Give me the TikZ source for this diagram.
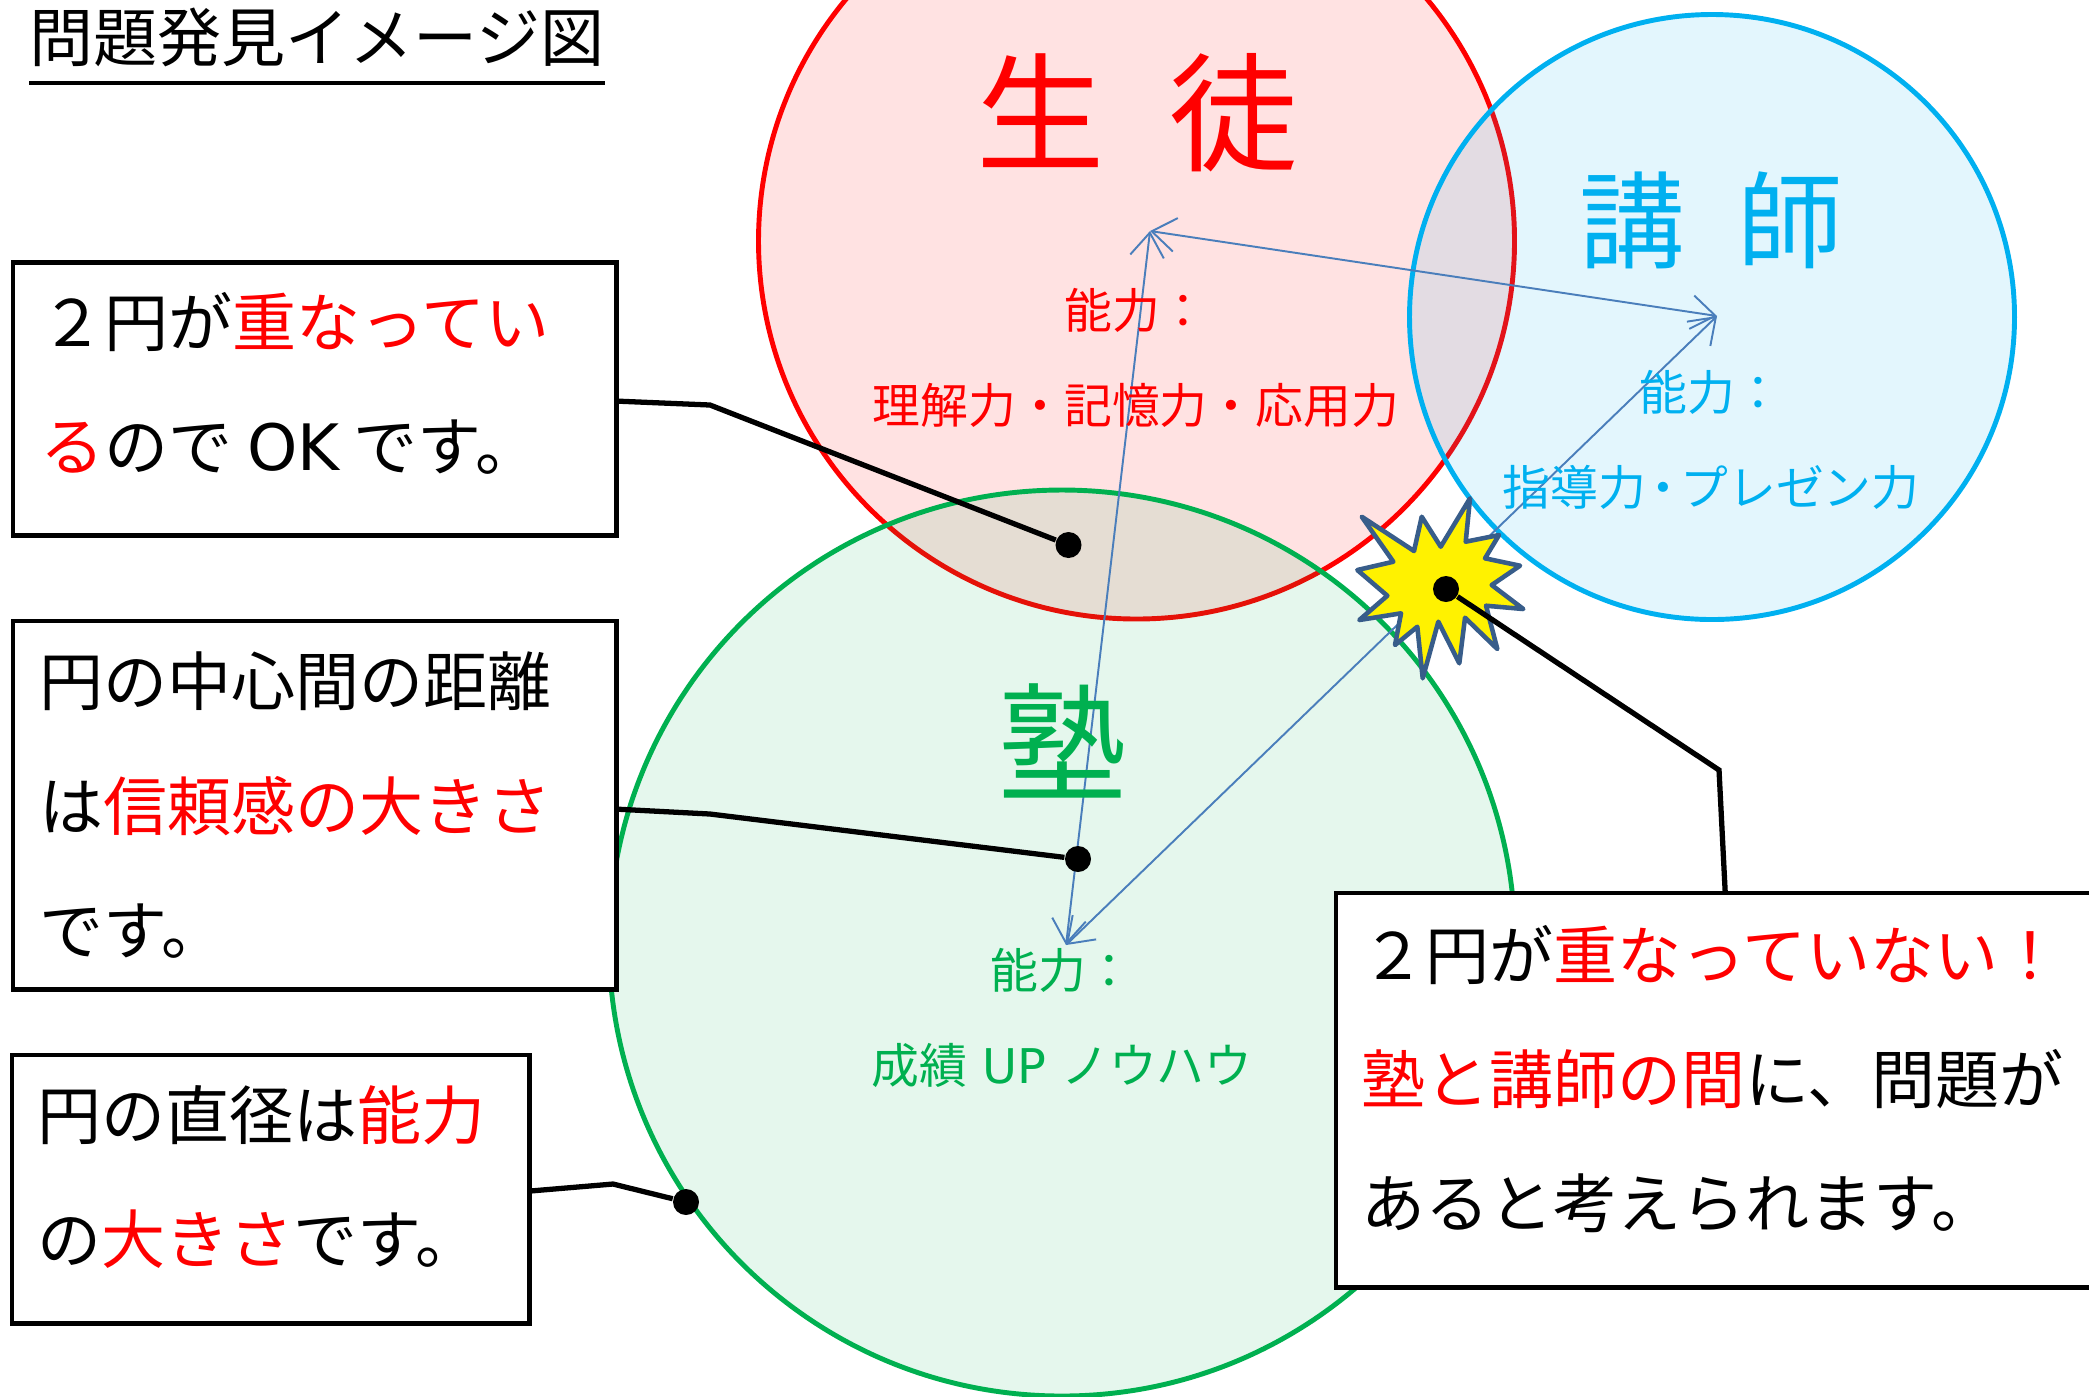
\documentclass[tikz,border=0pt]{standalone}
\usepackage{fontspec}
\setmainfont{Noto Sans CJK JP}
\newfontfamily\latinfont{DejaVu Sans}
\usetikzlibrary{arrows.meta}
\usetikzlibrary{calc}
\tikzset{>={Straight Barb[length=6.8pt,width=9.6pt]}}
\definecolor{juniorred}{RGB}{255,0,0}
\definecolor{juniorblue}{RGB}{0,176,240}
\definecolor{juniorgreen}{RGB}{0,176,80}
\definecolor{arrowblue}{RGB}{74,126,187}
\definecolor{staredge}{RGB}{56,93,138}
\newcommand{\hot}[1]{\textcolor{juniorred}{#1}}
\newcommand{\lat}[1]{{\latinfont #1}}
\tikzstyle{ring}=[line width=1.4pt,fill opacity=0.115]
\tikzstyle{callbox}=[draw=black,fill=white,line width=1.4pt,inner sep=0pt,outer sep=0pt,anchor=north west]
\tikzstyle{calltext}=[anchor=west,inner sep=0pt,align=left,font=\fontsize{18.2}{35.3}\selectfont]
\tikzstyle{leader}=[draw=black,line width=1.5pt]
\tikzstyle{blackdot}=[circle,fill=black,inner sep=0pt,minimum size=0.26cm]
\tikzstyle{skill}=[inner sep=0pt,align=center,font=\fontsize{13.6}{26.9}\selectfont]
\tikzstyle{arrowline}=[draw=arrowblue,line width=0.55pt,<->]
\begin{document}
\begin{tikzpicture}[x=0.01cm,y=-0.01cm]
    \clip (0,0) rectangle (2089,1396);

    % the three circles
    \draw[ring,draw=juniorred,fill=juniorred] (1136.5,241) circle (378);
    \draw[ring,draw=juniorgreen,fill=juniorgreen,fill opacity=0.1] (1062,943) circle (453);
    \draw[ring,draw=juniorblue,fill=juniorblue,fill opacity=0.11] (1712,317) circle (302.5);

    \coordinate (redcentre) at (1150,231);
    \coordinate (bluecentre) at (1717,316);
    \coordinate (greencentre) at (1066,945);
    \draw[arrowline] (redcentre) -- (bluecentre);
    \draw[arrowline] (redcentre) -- (greencentre);
    \draw[arrowline] (greencentre) -- (bluecentre);

    % names
    \node[text=juniorred,font=\fontsize{36.5}{36}\selectfont] (seito) at (1137,113) {生\hspace{0.5em}徒};
    \node[text=juniorblue,font=\fontsize{30}{30}\selectfont] (koshi) at (1711,220) {講\hspace{0.5em}師};
    \node[text=juniorgreen,font=\fontsize{36.5}{36}\selectfont] (juku) at (1063,741) {塾};

    \node[skill,text=juniorred] (seitoskill) at (1136,358) {能力：\\理解力・記憶力・応用力};
    \node[skill,text=juniorblue] (koshiskill) at (1711,440) {能力：\\指導力\hspace{-0.14em}・\hspace{-0.14em}プレゼン力};
    \node[skill,text=juniorgreen] (jukuskill) at (1062,1018) {能力：\\成績\lat{ UP }ノウハウ};

    % title
    \node[inner sep=0pt,font=\fontsize{18.2}{24}\selectfont] (title) at (317,37) {問題発見イメージ図};
    \draw[line width=1pt] (29,83) -- (605,83);

    % burst
    \draw[draw=staredge,fill=yellow,line width=1.3pt,line join=round]
    (1361.7,516.7) -- (1414,551) -- (1421.7,516.7) -- (1440.7,546.7) -- (1470,498.3) --
    (1465.7,541.7) -- (1499,535) -- (1485,558.3) -- (1520,565.7) -- (1491.7,585) --
    (1523.3,609) -- (1486,605.7) -- (1497.3,649) -- (1465,617.7) -- (1459.3,663.3) --
    (1438.3,621.7) -- (1422.7,678.3) -- (1417.3,626.7) -- (1395,645) -- (1401,613.3) --
    (1359.3,620) -- (1387.3,595.7) -- (1357.3,570) -- (1393.3,561.7) -- cycle;

    % call-outs
    \node[callbox,minimum width=6.03cm,minimum height=2.73cm] (boxa) at (13,262.5) {};
    \node[calltext] (boxatext) at ($(boxa.west)+(27,-16)$) {２円が\hot{重なってい}\\\hot{る}ので \lat{OK} です。};
    \node[callbox,minimum width=6.03cm,minimum height=3.68cm] (boxb) at (13,621) {};
    \node[calltext] (boxbtext) at ($(boxb.west)+(26,0)$) {円の中心間の距離\\は\hot{信頼感の大きさ}\\です。};
    \node[callbox,minimum width=5.17cm,minimum height=2.68cm] (boxc) at (12,1055) {};
    \node[calltext] (boxctext) at ($(boxc.west)+(25,-12)$) {円の直径は\hot{能力}\\の\hot{大きさ}です。};
    \node[callbox,minimum width=7.78cm,minimum height=3.94cm] (boxd) at (1336,893) {};
    \node[calltext] (boxdtext) at ($(boxd.west)+(25,-11)$) {２円が\hot{重なっていない！}\\\hot{塾と講師の間}に、問題が\\あると考えられます。};

    \node[blackdot] (dota) at (1068.5,545) {};
    \node[blackdot] (dotb) at (1078,859) {};
    \node[blackdot] (dotc) at (686,1202) {};
    \node[blackdot] (dotd) at (1446,589) {};

    \coordinate (benda) at (710,405);
    \coordinate (bendb) at (710,814);
    \coordinate (bendc) at (613,1184);
    \coordinate (bendd) at (1719,770);
    \draw[leader] ($(boxa.east)+(0,2)$) -- (benda) -- (dota);
    \draw[leader] ($(boxb.east)+(0,4)$) -- (bendb) -- (dotb);
    \draw[leader] ($(boxc.east)+(0,2)$) -- (bendc) -- (dotc);
    \draw[leader] (boxd.north) -- (bendd) -- (dotd);
\end{tikzpicture}
\end{document}
